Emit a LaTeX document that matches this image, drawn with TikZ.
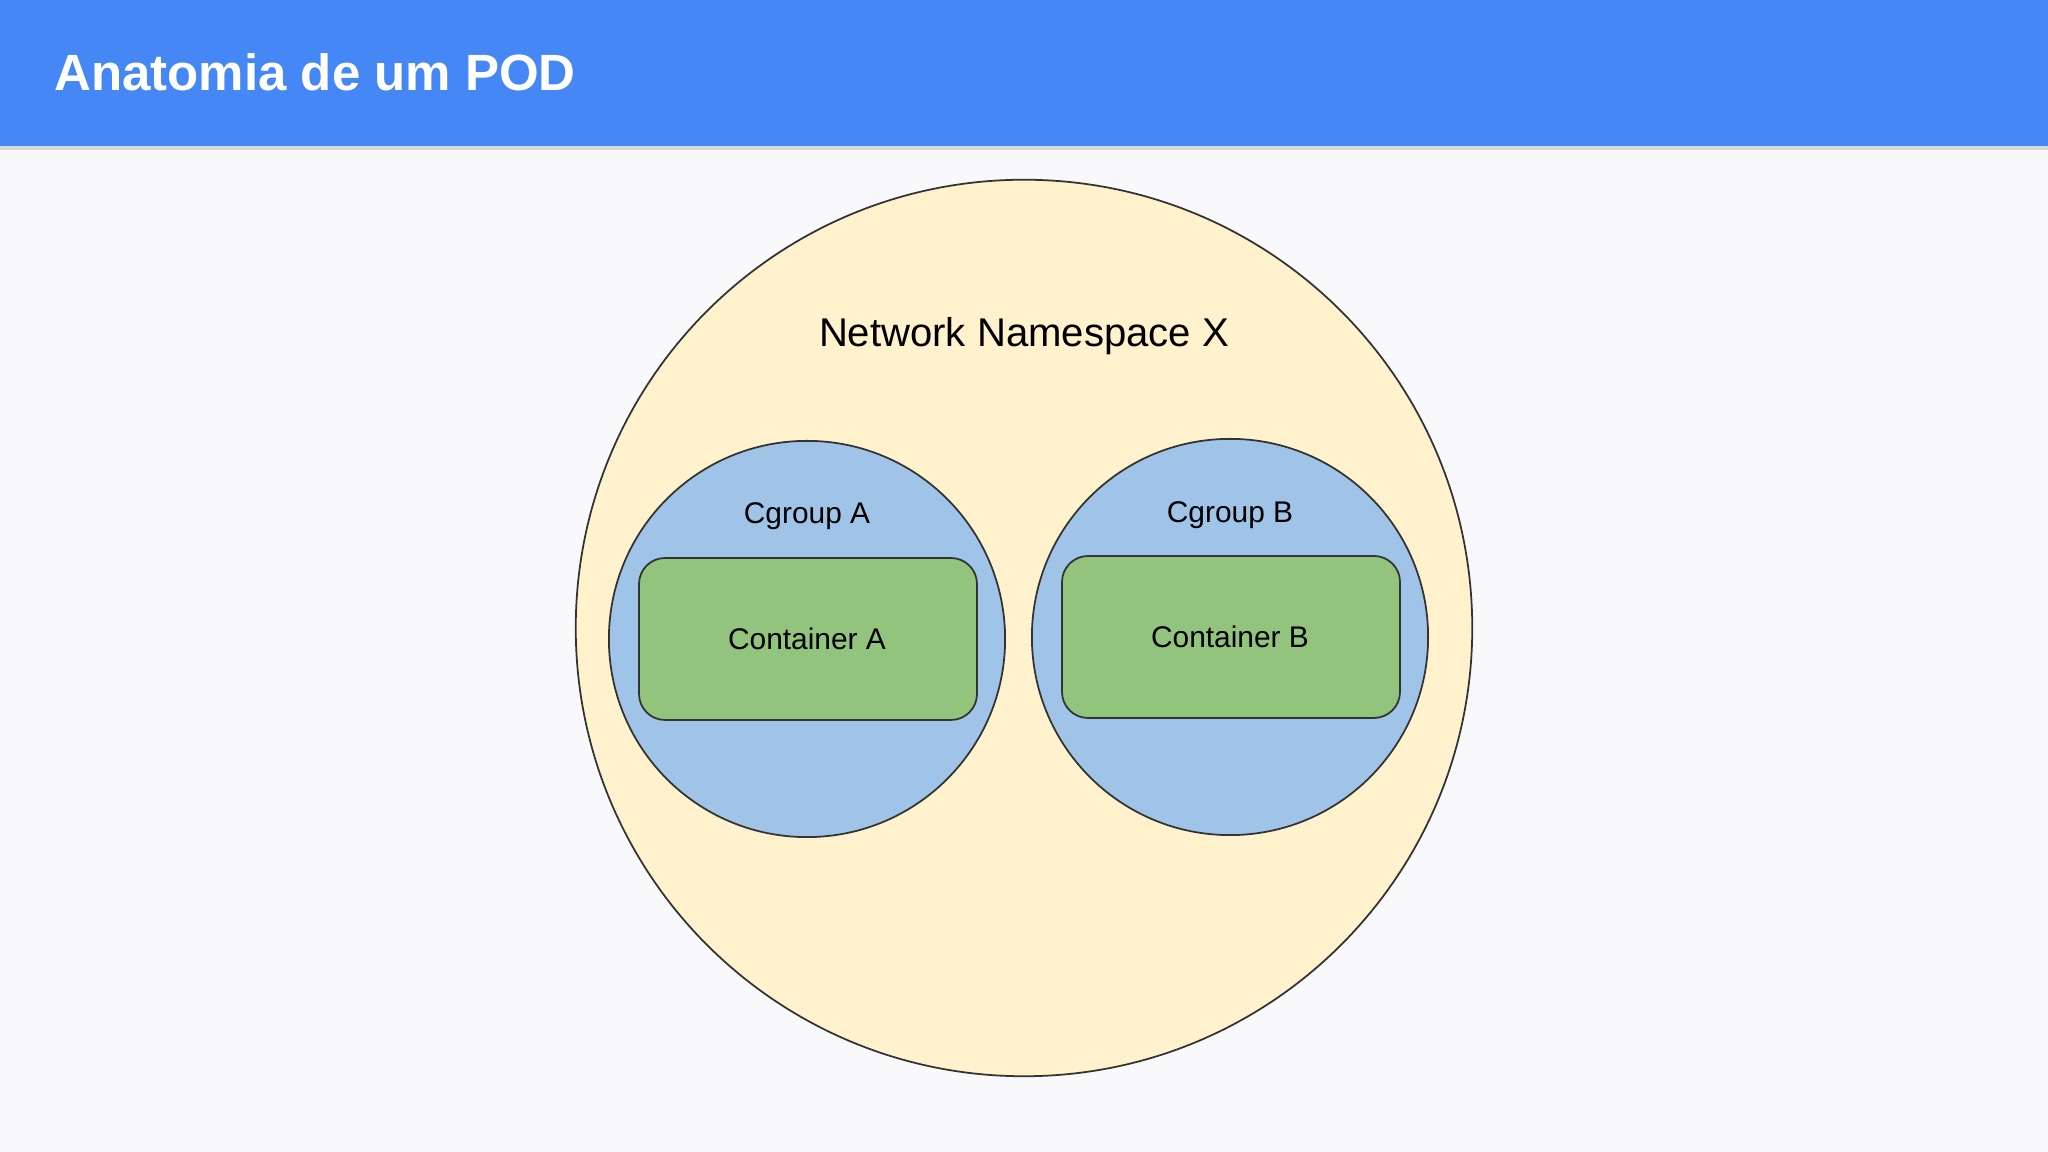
\documentclass[tikz,border=0pt]{standalone}
\usepackage{fontspec}
\setmainfont{Liberation Sans}
\definecolor{hdr}{HTML}{4587F5}
\definecolor{bg}{HTML}{F9F9FB}
\definecolor{nsy}{HTML}{FFF2CC}
\definecolor{cgb}{HTML}{A0C4E8}
\definecolor{ctg}{HTML}{93C47D}
\begin{document}
\begin{tikzpicture}[x=0.01cm,y=0.01cm,
  circ/.style={circle,draw=black!80,line width=0.5pt,inner sep=0pt},
  cont/.style={draw=black!80,line width=0.5pt,fill=ctg,rounded corners=0.26cm},
  lbl/.style={font=\fontsize{8.5pt}{10pt}\selectfont}]
\useasboundingbox (0,0) rectangle (2048,1152);
\fill[bg] (0,0) rectangle (2048,1152);
\fill[black!15] (0,1002) rectangle (2048,1008);
\fill[hdr] (0,1006) rectangle (2048,1152);
\node[anchor=west,text=white,font=\bfseries\fontsize{14.5pt}{17pt}\selectfont] (title) at (42,1080) {Anatomia de um POD};
\node[circ,fill=nsy,minimum size=8.96cm] (ns) at (1024,524) {};
\node[font=\fontsize{11.4pt}{13pt}\selectfont] (nslbl) at (1024,816) {Network Namespace X};
\node[circ,fill=cgb,minimum size=3.96cm] (cga) at (807,513) {};
\node[circ,fill=cgb,minimum size=3.96cm] (cgbn) at (1230,515) {};
\draw[cont] (639,432) rectangle (977,594);
\draw[cont] (1062,434) rectangle (1400,596);
\node[lbl] (la) at (807,636) {Cgroup A};
\node[lbl] (lb) at (1230,637) {Cgroup B};
\node[lbl] (ca) at (807,513) {Container A};
\node[lbl] (cb) at (1230,515) {Container B};
\end{tikzpicture}
\end{document}
